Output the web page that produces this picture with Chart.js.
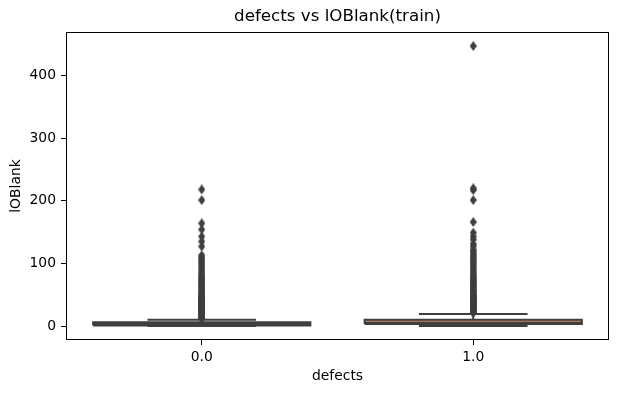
<!DOCTYPE html>
<html><head><meta charset="utf-8">
<script src="https://cdn.jsdelivr.net/npm/chart.js@4.4.0/dist/chart.umd.min.js"></script>
<style>html,body{margin:0;padding:0;background:#fff}#wrap{width:618px;height:393px}</style>
</head><body><div id="wrap"><canvas id="c" width="618" height="393"></canvas></div>
<script>
// ---- data ----
const categories = ['0.0', '1.0'];
const q1 = [1, 3];
const median = [3, 5];
const q3 = [6, 10];
const whiskerLow = [0, 0];
const whiskerHigh = [10, 19];
const outliers0 = [12,13,14,15,16,17,18,19,20,21,22,23,24,25,26,27,28,29,30,31,32,33,34,35,36,37,38,39,40,41,42,43,44,45,46,47,48,49,50,52,54,56,58,60,62,64,66,68,70,72,74,76,78,80,83,86,89,92,95,98,101,104,107,110,113,127,135,143,154,164,201,218];
const outliers1 = [21,22,23,24,25,26,27,28,29,30,31,32,33,34,35,36,37,38,39,40,41,42,43,44,45,46,47,48,49,50,52,54,56,58,60,62,64,66,68,70,72,74,76,78,80,83,86,89,92,95,98,101,104,107,110,113,116,119,122,127,131,138,143,149,166,201,217,220,447];
const yTicks = [0, 100, 200, 300, 400];
const yMin = -22.35, yMax = 469.35;

// ---- style ----
const gray = '#3f3f3f';
const fillColors = ['#5975a4', '#cc8963'];
const boxHalf = 0.4, capHalf = 0.2;
const FONT = 'DejaVu Sans';

const diamond = document.createElement('canvas');
diamond.width = 7; diamond.height = 10;
(function(){
  const g = diamond.getContext('2d');
  g.fillStyle = gray;
  g.beginPath(); g.moveTo(3.5,0); g.lineTo(7,5); g.lineTo(3.5,10); g.lineTo(0,5); g.closePath(); g.fill();
})();

const outliers = [outliers0, outliers1];
const datasets = [];
function seg(points, extra) {
  return Object.assign({type:'line', data: points, borderColor: gray, borderWidth: 2,
    pointRadius: 0, fill: false, tension: 0, order: 2}, extra || {});
}
categories.forEach((c, i) => {
  const box = [{x:i-boxHalf,y:q1[i]},{x:i+boxHalf,y:q1[i]},{x:i+boxHalf,y:q3[i]},{x:i-boxHalf,y:q3[i]},{x:i-boxHalf,y:q1[i]}];
  datasets.push(seg(box, {borderWidth: 0, fill: 'shape', backgroundColor: fillColors[i], order: 4}));
  datasets.push(seg(box, {order: 3}));
  datasets.push(seg([{x:i,y:whiskerLow[i]},{x:i,y:q1[i]}]));
  datasets.push(seg([{x:i,y:q3[i]},{x:i,y:whiskerHigh[i]}]));
  datasets.push(seg([{x:i-capHalf,y:whiskerLow[i]},{x:i+capHalf,y:whiskerLow[i]}]));
  datasets.push(seg([{x:i-capHalf,y:whiskerHigh[i]},{x:i+capHalf,y:whiskerHigh[i]}]));
  datasets.push(seg([{x:i-boxHalf,y:median[i]},{x:i+boxHalf,y:median[i]}]));
  datasets.push({type:'line', showLine:false, data: outliers[i].map(v => ({x:i, y:v})),
    pointStyle: diamond, pointRadius: 4, order: 1});
});

const frame = {
  id: 'frame',
  afterDatasetsDraw(chart) {
    const {ctx, chartArea: a} = chart;
    ctx.save();
    ctx.strokeStyle = '#000'; ctx.lineWidth = 1;
    const l = Math.round(a.left) + 0.5, t = Math.round(a.top) + 0.5;
    const r = Math.round(a.right) - 0.5, b = Math.round(a.bottom) - 0.5;
    ctx.strokeRect(l, t, r - l, b - t);
    ctx.restore();
  }
};

new Chart(document.getElementById('c'), {
  type: 'line',
  data: { datasets },
  plugins: [frame],
  options: {
    responsive: false, animation: false, events: [], devicePixelRatio: 1,
    layout: { padding: { left: 0, right: 9, top: 0, bottom: 0 } },
    plugins: {
      legend: { display: false }, tooltip: { enabled: false },
      title: { display: true, fullSize: false, text: 'defects vs lOBlank(train)', color: '#000',
        font: { family: FONT, size: 16.7, weight: 'normal' }, padding: { top: 7, bottom: 5 } }
    },
    scales: {
      x: {
        type: 'linear', min: -0.5, max: 1.5,
        afterBuildTicks: s => { s.ticks = categories.map((c, i) => ({ value: i })); },
        afterFit: s => { s.height = 53; },
        grid: { display: true, drawOnChartArea: false, drawTicks: true, tickLength: 5, color: '#000' },
        border: { display: false },
        ticks: { color: '#000', font: { family: FONT, size: 13.9 }, padding: 4, maxRotation: 0,
          callback: v => categories[Math.round(v)] },
        title: { display: true, text: 'defects', color: '#000', font: { family: FONT, size: 13.9 }, padding: { top: 0, bottom: 8 } }
      },
      y: {
        type: 'linear', min: yMin, max: yMax,
        afterBuildTicks: s => { s.ticks = yTicks.map(v => ({ value: v })); },
        afterFit: s => { s.width = 66; },
        grid: { display: true, drawOnChartArea: false, drawTicks: true, tickLength: 5, color: '#000' },
        border: { display: false },
        ticks: { color: '#000', font: { family: FONT, size: 13.9 }, padding: 5, callback: v => String(v) },
        title: { display: true, text: 'lOBlank', color: '#000', font: { family: FONT, size: 13.9 }, padding: { top: 8, bottom: 0 } }
      }
    }
  }
});
</script></body></html>
